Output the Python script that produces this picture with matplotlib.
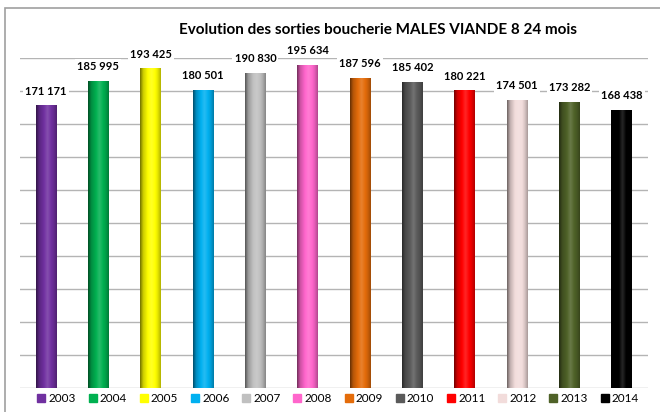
import numpy as np
import matplotlib.pyplot as plt
from matplotlib.colors import to_rgb
from matplotlib.lines import Line2D
from matplotlib.patches import Rectangle

# data
years = ["2003", "2004", "2005", "2006", "2007", "2008",
         "2009", "2010", "2011", "2012", "2013", "2014"]
values = [171171, 185995, 193425, 180501, 190830, 195634,
          187596, 185402, 180221, 174501, 173282, 168438]
colors = ["#7030a0", "#00b050", "#ffff00", "#00b0f0", "#c0c0c0", "#ff66cc",
          "#e46c0a", "#5a5a5a", "#ff0000", "#f2dcdb", "#4f6228", "#000000"]

plt.rcParams['font.family'] = ['Lato', 'DejaVu Sans']

fig = plt.figure(figsize=(6.6, 4.12), dpi=100)
ax = fig.add_axes([0.030, 0.058, 0.952, 0.801])

# cylinder-like shading across the bar width
t = np.linspace(0, 1, 60)
shade = np.interp(t, [0, 0.15, 0.55, 0.85, 1], [0.45, 0.8, 1.15, 0.9, 0.7])

width = 0.4
x = np.arange(len(years))
for i, (v, c) in enumerate(zip(values, colors)):
    rgb = np.array(to_rgb(c))
    row = []
    for s in shade:
        if s <= 1:
            row.append(rgb * s)
        else:
            row.append(rgb + (1 - rgb) * (s - 1))
    img = np.clip(np.array([row]), 0, 1)
    ax.imshow(img, extent=(i - width / 2, i + width / 2, 0, v),
              aspect='auto', zorder=3, interpolation='bilinear')
    ax.text(i, v + 5500, f"{v:,}".replace(",", " "), ha='center', va='bottom',
            fontsize=8, fontweight='bold', zorder=4,
            bbox=dict(facecolor='white', edgecolor='none', pad=1.5))

ax.set_xlim(-0.5, len(years) - 0.5)
ax.set_ylim(0, 200000)
ax.set_yticks(np.arange(0, 200001, 20000))
ax.yaxis.grid(True, color='#b4b4b4', linewidth=1.0, zorder=0)
ax.set_axisbelow(True)
ax.tick_params(left=False, bottom=False, labelleft=False, labelbottom=False)
for sp in ax.spines.values():
    sp.set_visible(False)

handles = [Line2D([], [], marker='s', linestyle='none', markersize=6,
                  markerfacecolor=c, markeredgecolor=c) for c in colors]
fig.legend(handles, years, loc='center', bbox_to_anchor=(0.511, 0.033), ncol=12,
           frameon=False, fontsize=8.5, handletextpad=0.1, columnspacing=0.92,
           handlelength=1.0, borderpad=0.2)

fig.text(0.573, 0.927, "Evolution des sorties boucherie MALES VIANDE 8 24 mois",
         ha='center', va='center', fontsize=11, fontweight='bold')

fig.patches.append(Rectangle((0.008, -0.05), 1.1, 1.03, transform=fig.transFigure,
                             fill=False, edgecolor='#a0a0a0', linewidth=1.2))

fig.savefig("out.png", dpi=100)
